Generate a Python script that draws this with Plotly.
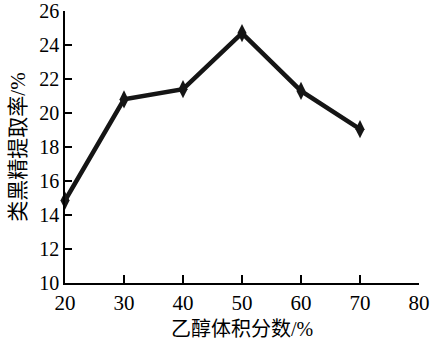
import plotly.graph_objects as go

ethanol = [20, 30, 40, 50, 60, 70]
yield_pct = [14.85, 20.8, 21.4, 24.7, 21.3, 19.05]
x_ticks = [20, 30, 40, 50, 60, 70, 80]
y_ticks = [10, 12, 14, 16, 18, 20, 22, 24, 26]

font_fam = "Liberation Serif, Times New Roman, Noto Sans CJK SC, serif"

fig = go.Figure(go.Scatter(
    x=ethanol, y=yield_pct, mode="lines+markers",
    line=dict(color="#151515", width=4.5),
    marker=dict(symbol="diamond-tall", size=13, color="#151515"),
    cliponaxis=False,
))

fig.update_layout(
    width=430, height=348,
    margin=dict(l=65, r=11, t=11, b=65),
    paper_bgcolor="white", plot_bgcolor="white",
    showlegend=False,
    font=dict(family=font_fam, size=21, color="black"),
    xaxis=dict(
        range=[20, 80], tickvals=x_ticks, ticks="inside", ticklen=8,
        tickwidth=1.5, tickcolor="black", showline=True, linecolor="black",
        linewidth=1.5, showgrid=False, zeroline=False, automargin=False,
        tickfont=dict(size=21, family=font_fam),
        ticklabeloverflow="allow",
        title=dict(text="乙醇体积分数/%", font=dict(size=20, family=font_fam), standoff=8),
    ),
    yaxis=dict(
        range=[10, 26], tickvals=y_ticks, ticks="inside", ticklen=7,
        tickwidth=1.5, tickcolor="black", showline=True, linecolor="black",
        linewidth=1.5, showgrid=False, zeroline=False, automargin=False,
        tickfont=dict(size=20, family=font_fam),
        ticklabeloverflow="allow",
        title=dict(text="类黑精提取率/%", font=dict(size=21, family=font_fam), standoff=8),
    ),
)

fig.write_html("out.html")
